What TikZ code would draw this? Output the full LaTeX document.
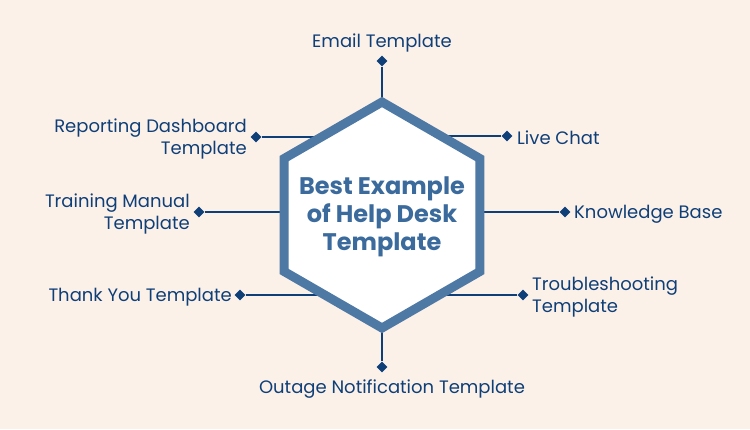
\documentclass[tikz,border=0pt]{standalone}
\usepackage{fontspec}
\setmainfont{Poppins}
\usetikzlibrary{shapes.geometric}

\definecolor{cream}{HTML}{FCF1E8}
\definecolor{navy}{HTML}{0F3F78}
\definecolor{hexblue}{HTML}{4E79A5}
\definecolor{hubtext}{HTML}{3B6A9C}

\tikzset{
  tip/.style={diamond,fill=navy,inner sep=0pt,minimum size=11pt},
  link/.style={draw=navy,line width=2pt},
  label/.style={text=navy,font=\fontsize{18}{22}\selectfont,inner sep=0pt},
  hexbox/.style={draw=hexblue,fill=white,line width=9pt,line join=miter}
}

\begin{document}
\begin{tikzpicture}[x=1pt,y=-1pt]
  \fill[cream] (0,0) rectangle (750,429);
  \useasboundingbox (0,0) rectangle (750,429);
  \coordinate (c) at (382,215);

  \node[tip] (email) at (382,61) {};
  \node[tip] (chat) at (507,136) {};
  \node[tip] (know) at (565,212) {};
  \node[tip] (trouble) at (523,295) {};
  \node[tip] (outage) at (382,367) {};
  \node[tip] (thanks) at (240,295) {};
  \node[tip] (train) at (199,212) {};
  \node[tip] (report) at (256,137) {};

  \draw[link] (email) -- (c);
  \draw[link] (outage) -- (c);
  \foreach \t in {chat,know,trouble,thanks,train,report}
    \draw[link] (\t) -- (\t -| c);

  \draw[hexbox] (c) +(90:113) -- +(150:113) -- +(210:113) -- +(270:113)
    -- +(330:113) -- +(30:113) -- cycle;
  \node[text=hubtext,font=\fontsize{24}{28}\selectfont\bfseries,align=center] (hub) at (382,217)
    {Best Example\\of Help Desk\\Template};

  \node[label] (emailtxt) at (382,43) {Email Template};
  \node[label,anchor=west] (chattxt) at (517,138) {Live Chat};
  \node[label,anchor=west] (knowtxt) at (574,214) {Knowledge Base};
  \node[label,anchor=west,align=left] (troubletxt) at (532,297) {Troubleshooting\\Template};
  \node[label] (outagetxt) at (392,389) {Outage Notification Template};
  \node[label,anchor=east] (thankstxt) at (232,297) {Thank You Template};
  \node[label,anchor=east,align=right] (traintxt) at (190,214) {Training Manual\\Template};
  \node[label,anchor=east,align=right] (reporttxt) at (247,139) {Reporting Dashboard\\Template};
\end{tikzpicture}
\end{document}
